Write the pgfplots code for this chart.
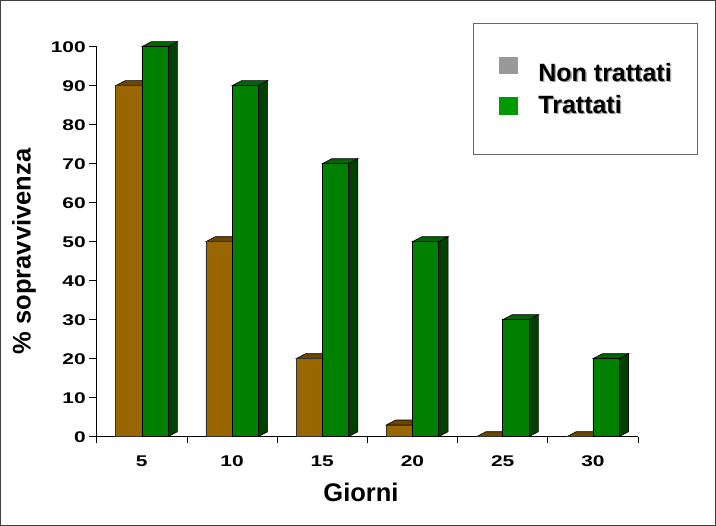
\documentclass[border=0pt]{standalone}
\usepackage{pgfplots}
\pgfplotsset{compat=1.18}
\usepackage{pgfplotstable}
\usepackage{fontspec}
\setmainfont{Liberation Sans}
\newfontfamily\tickfont[FakeStretch=1.35]{Liberation Sans}
\definecolor{brownF}{HTML}{996600}
\definecolor{brownT}{HTML}{6B4700}
\definecolor{brownS}{HTML}{4D3300}
\definecolor{greenF}{HTML}{008000}
\definecolor{greenT}{HTML}{006600}
\definecolor{greenS}{HTML}{004000}
\definecolor{legGray}{HTML}{999999}
\definecolor{legGreen}{HTML}{009900}

\pgfplotstableread{
x a b
0 90 100
1 50 90
2 20 70
3 3 50
4 0 30
5 0 20
}\data

\def\bw{0.29}
\def\ddx{0.105}
\def\ddy{1.28}

% top and side faces of the 3D bars, computed from the table values
\newcommand\faces[4]{%
  \pgfplotsforeachungrouped \ii in {0,...,5}{%
    \pgfplotstablegetelem{\ii}{#1}\of\data
    \let\val\pgfplotsretval
    \pgfmathsetmacro\xl{\ii+#2}%
    \pgfmathsetmacro\xr{\xl+\bw}%
    \pgfmathsetmacro\xll{\xl+\ddx}%
    \pgfmathsetmacro\xrr{\xr+\ddx}%
    \pgfmathsetmacro\vt{\val+\ddy}%
    \edef\tmp{%
      \noexpand\addplot[fill=#4,draw=black,line width=0.6pt,forget plot]
        coordinates {(\xr,0) (\xrr,\ddy) (\xrr,\vt) (\xr,\val)} -- cycle;
      \noexpand\addplot[fill=#3,draw=black,line width=0.6pt,forget plot]
        coordinates {(\xl,\val) (\xr,\val) (\xrr,\vt) (\xll,\vt)} -- cycle;
    }%
    \tmp
  }%
}

\newcommand\shtext[1]{\makebox[0pt][l]{\raisebox{-1.3pt}{\hspace{1.3pt}\textcolor{black!35}{#1}}}#1}

\begin{document}
\begin{tikzpicture}
\begin{axis}[
  scale only axis,
  width=541.3pt, height=390pt,
  xmin=-0.5, xmax=5.5, ymin=0, ymax=100,
  clip=false,
  axis lines=left,
  axis line style={-, line width=0.8pt, black},
  xtick={0,...,5},
  xticklabels={5,10,15,20,25,30},
  minor xtick={-0.5,0.5,...,5.5},
  ytick={0,10,...,100},
  tick align=outside,
  major tick length=7.5pt,
  minor tick length=6pt,
  tick style={black, line width=0.8pt},
  major x tick style={draw=none},
  /pgf/number format/assume math mode=true,
  ticklabel style={font=\tickfont\bfseries\fontsize{15.5}{17}\selectfont},
  xticklabel style={yshift=-8pt},
  xlabel={Giorni},
  ylabel={\% sopravvivenza},
  label style={font=\bfseries\fontsize{25.5}{28}\selectfont, inner sep=0pt},
  xlabel style={at={(axis description cs:0.4883,-0.1187)}, anchor=north},
  ylabel style={at={(axis description cs:-0.1343,0.4749)}, anchor=center},
  legend cell align=left,
  legend style={at={(axis description cs:0.6952,1.0608)}, anchor=north west,
    draw=black!60, line width=0.8pt, inner xsep=26pt, inner ysep=40pt,
    row sep=12pt, nodes={inner sep=0pt},
    font=\bfseries\fontsize{25}{28}\selectfont,
    /tikz/every odd column/.append style={column sep=20pt}},
]
\faces{a}{-\bw}{brownT}{brownS}
\addplot[ybar, bar width=\bw, bar shift=0pt, fill=brownF, draw=black!80, line width=0.6pt,
  legend image code/.code={\fill[legGray,draw=none,overlay] (0pt,-1pt) rectangle (19pt,16.6pt); \path[draw=none,fill=none] (0pt,0pt) rectangle (19pt,1pt);}]
  table[x expr=\thisrow{x}-0.145, y=a]{\data};
\addlegendentry{\shtext{Non trattati}}
\faces{b}{0}{greenT}{greenS}
\addplot[ybar, bar width=\bw, bar shift=0pt, fill=greenF, draw=black, line width=0.6pt,
  legend image code/.code={\fill[legGreen,draw=none,overlay] (0pt,-10.5pt) rectangle (19pt,7.5pt); \path[draw=none,fill=none] (0pt,0pt) rectangle (19pt,1pt);}]
  table[x expr=\thisrow{x}+0.145, y=b]{\data};
\addlegendentry{\shtext{Trattati}}
\draw[line width=1pt, black!75] (rel axis cs:0,0) ++(-96.2pt,-88.8pt) rectangle ++(715pt,525pt);
\end{axis}
\end{tikzpicture}
\end{document}
